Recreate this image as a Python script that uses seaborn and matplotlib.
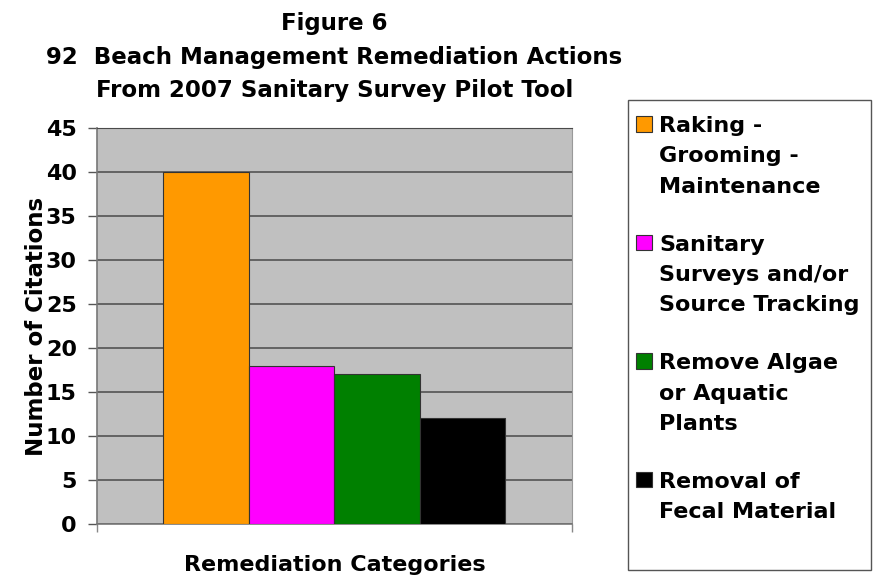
import matplotlib
matplotlib.use('Agg')
import matplotlib.pyplot as plt
from matplotlib.patches import Rectangle
import pandas as pd
import seaborn as sns

categories = [
    'Raking -\nGrooming -\nMaintenance',
    'Sanitary\nSurveys and/or\nSource Tracking',
    'Remove Algae\nor Aquatic\nPlants',
    'Removal of\nFecal Material',
]
citations = [40, 18, 17, 12]
bar_colors = ['#FF9900', '#FF00FF', '#008000', '#000000']
y_ticks = [0, 5, 10, 15, 20, 25, 30, 35, 40, 45]

df = pd.DataFrame({
    'group': ['Remediation'] * len(categories),
    'category': categories,
    'citations': citations,
})

sns.set_style('white')
plt.rcParams['font.family'] = ['DejaVu Sans']
plt.rcParams['font.weight'] = 'bold'
plt.rcParams['text.color'] = 'black'
plt.rcParams['axes.labelcolor'] = 'black'
plt.rcParams['ytick.color'] = 'black'
plt.rcParams['xtick.color'] = 'black'

fig = plt.figure(figsize=(8.81, 5.79), dpi=100)
ax = fig.add_axes([0.110, 0.095, 0.539, 0.684])
ax.set_facecolor('#C0C0C0')

sns.barplot(data=df, x='group', y='citations', hue='category',
            palette=bar_colors, saturation=1, width=0.72,
            edgecolor='#333333', linewidth=0.8, ax=ax, legend=True, zorder=3)

ax.set_ylim(0, 45)
ax.set_xlim(-0.5, 0.5)
ax.set_yticks(y_ticks)
ax.set_xticks([-0.5, 0.5])
ax.set_xticklabels(['', ''])
ax.yaxis.grid(True, color='#4a4a4a', linewidth=1.1, zorder=1)
ax.set_axisbelow(True)
ax.tick_params(axis='y', left=True, direction='out', length=6.5, width=1,
               color='#555555', labelcolor='black', labelsize=16, pad=8)
ax.tick_params(axis='x', bottom=True, direction='out', length=6, width=1,
               color='#888888')
for lab in ax.get_yticklabels():
    lab.set_fontweight('bold')

for side in ['left', 'bottom']:
    ax.spines[side].set_color('#777777')
    ax.spines[side].set_linewidth(1.2)
ax.spines['top'].set_color('#4a4a4a')
ax.spines['right'].set_color('#999999')

ax.set_ylabel('Number of Citations', fontsize=16.5, fontweight='bold', labelpad=-2)
ax.set_xlabel('Remediation Categories', fontsize=16, fontweight='bold', labelpad=13)
ax.set_title('Figure 6\n92  Beach Management Remediation Actions\nFrom 2007 Sanitary Survey Pilot Tool',
             fontsize=16.5, fontweight='bold', linespacing=1.6, pad=22)

handles, labels = ax.get_legend_handles_labels()
ax.get_legend().remove()
leg = fig.legend(handles, labels, loc='upper left',
                 bbox_to_anchor=(620 / 881, 9 / 579, 251 / 881, 470 / 579),
                 mode='expand', fontsize=16, frameon=False,
                 handlelength=0.7, handleheight=0.7, handletextpad=0.35,
                 labelspacing=1.7, borderpad=0.72, borderaxespad=0)
for t in leg.get_texts():
    t.set_fontweight('bold')
    t.set_linespacing(1.65)
for h in leg.legend_handles:
    h.set_edgecolor('#333333')
# put each colour box beside the first line of its label
for col in leg._legend_handle_box.get_children():
    for row in col.get_children():
        row.align = 'top'

# legend frame as in the original (taller than its entries)
fig.patches.append(Rectangle((628 / 881, 9 / 579), 243 / 881, 470 / 579,
                             transform=fig.transFigure, fill=False,
                             edgecolor='#555555', linewidth=1.0))

fig.savefig('out.png', dpi=100)
